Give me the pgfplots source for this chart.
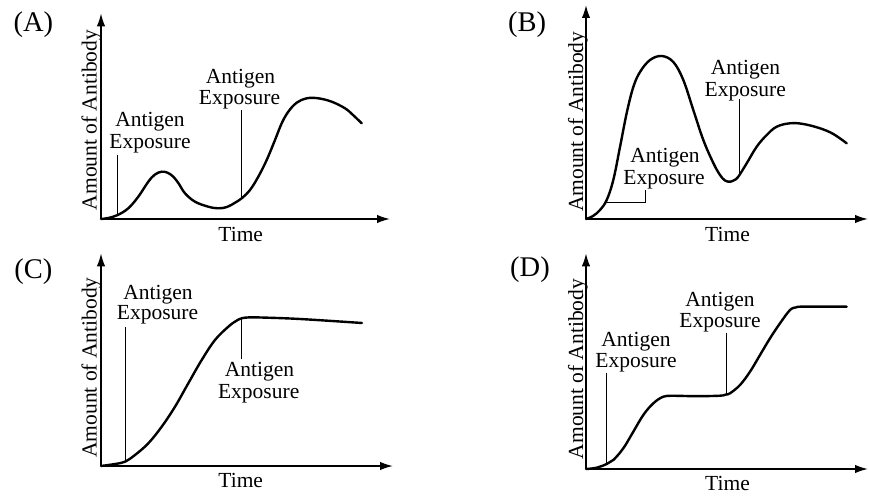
\documentclass[border=0pt]{standalone}
\usepackage{pgfplots}
\pgfplotsset{compat=1.18}
\usetikzlibrary{arrows.meta}
\usepackage{fontspec}
\setmainfont{Liberation Serif}
\newcommand{\lab}{\fontsize{21.5}{21.5}\selectfont}
\newcommand{\pnl}{\fontsize{28.5}{28.5}\selectfont}
\pgfplotsset{
  panel/.style={
    scale only axis, axis lines=left, ticks=none, clip=false,
    xmin=0, ymin=0,
    axis line style={line width=1.7pt, -{Latex[length=13pt,width=8.5pt]}},
  },
  curve/.style={black, line width=2.4pt, smooth, tension=0.6, no markers, line cap=round, line join=round},
}
\tikzset{expo/.style={black, line width=0.8pt}}
\begin{document}
\begin{tikzpicture}[x=1pt,y=1pt]
\path[use as bounding box, fill=white] (0,0) rectangle (869,495);
% ---------- (A)
\begin{axis}[panel, at={(101pt,276pt)}, anchor=south west,
  width=289pt, height=205.7pt, xmax=289, ymax=205.7]
\addplot[curve] coordinates {(0,0) (7.3,1) (16.7,4) (27.3,10.7) (37.3,22.3) (47.3,37.3) (54,44.5) (60.7,47.3) (66.5,46.3) (72.3,42.3) (78,35) (84,25.7) (94,17.3) (107.3,12.3) (117.3,10.7) (126,12) (134,16.3) (140.7,20.7) (149,29) (157.3,42.3) (165.7,59) (174,79) (180.7,95.7) (187.3,107.3) (195.7,116.3) (205.7,120.7) (217.3,120.7) (230.7,117.3) (244,110.7) (252,104) (260.7,95.7)};
\draw[expo] (axis cs:16.7,4) -- (axis cs:16.7,64);
\draw[expo] (axis cs:140,20.2) -- (axis cs:140,109);
\end{axis}
% ---------- (B)
\begin{axis}[panel, at={(586pt,276pt)}, anchor=south west,
  width=282pt, height=214pt, xmax=282, ymax=214]
\addplot[curve] coordinates {(0,0) (7,3) (14,9) (20.7,19) (27.3,39) (34,72) (40.7,106) (47.3,132) (54,147) (64,159) (75.7,163) (87.3,157) (97.3,139) (107.3,109) (117.3,79) (127.3,56) (134,44) (139,38.5) (144,37.3) (148.5,39) (152.3,42.3) (160.7,55.7) (170.7,72.3) (180.7,84) (190.7,92.3) (204,95.7) (217.3,95) (234,90.7) (247.3,85) (260.7,75.7)};
\draw[expo] (axis cs:19.5,17) -- (axis cs:59,17) -- (axis cs:59,29);
\draw[expo] (axis cs:153,44) -- (axis cs:153,120);
\end{axis}
% ---------- (C)
\begin{axis}[panel, at={(101pt,29pt)}, anchor=south west,
  width=292pt, height=212.7pt, xmax=292, ymax=212.7]
\addplot[curve] coordinates {(0,0) (14,2) (24,4.3) (34,11) (47.3,22.7) (60.7,39.3) (74,59.3) (87.3,82.7) (100.7,106) (114,126) (127.3,139.3) (135,145) (140.7,147.7) (148,148.6) (160,148.5) (199,147) (261,143)};
\draw[expo] (axis cs:24,4.3) -- (axis cs:24,139.3);
\draw[expo] (axis cs:140.7,147.7) -- (axis cs:140.7,107);
\end{axis}
% ---------- (D)
\begin{axis}[panel, at={(586pt,26pt)}, anchor=south west,
  width=282pt, height=215.7pt, xmax=282, ymax=215.7]
\addplot[curve] coordinates {(0,0) (10.7,1.3) (20.7,5) (27.3,9) (37.3,20.7) (47.3,37.3) (57.3,54) (67.3,65.7) (77.3,72.3) (87.3,73.2) (110.7,72.8) (134,73.3) (140,74.5) (144,75.7) (154,84) (164,97.3) (174,114) (184,130.7) (194,145.7) (204,159) (210,161.6) (214,162.3) (230,162.3) (260.7,162.3)};
\draw[expo] (axis cs:20,5) -- (axis cs:20,95.7);
\draw[expo] (axis cs:140.7,74) -- (axis cs:140.7,135.7);
\end{axis}
% ---------- texts
\begin{scope}[every node/.style={inner sep=0pt, anchor=base}]
\node[font=\pnl] at (33.3,463.3) {(A)};
\node[font=\pnl] at (527,463.3) {(B)};
\node[font=\pnl] at (33.3,216.7) {(C)};
\node[font=\pnl] at (530,218.3) {(D)};
\node[font=\lab, rotate=90] at (96.7,375) {Amount of Antibody};
\node[font=\lab, rotate=90] at (583,373.3) {Amount of Antibody};
\node[font=\lab, rotate=90] at (96.7,127.5) {Amount of Antibody};
\node[font=\lab, rotate=90] at (583,126) {Amount of Antibody};
\node[font=\lab] at (240.7,253.3) {Time};
\node[font=\lab] at (727.5,253.3) {Time};
\node[font=\lab] at (240.7,7.3) {Time};
\node[font=\lab] at (727.5,5) {Time};
% A
\node[font=\lab] at (150,368.3) {Antigen};
\node[font=\lab] at (150,346.7) {Exposure};
\node[font=\lab] at (240.5,411.7) {Antigen};
\node[font=\lab] at (239.5,390) {Exposure};
% B
\node[font=\lab] at (665,332) {Antigen};
\node[font=\lab] at (664,310) {Exposure};
\node[font=\lab] at (745.5,420) {Antigen};
\node[font=\lab] at (745.3,398.3) {Exposure};
% C
\node[font=\lab] at (158,195) {Antigen};
\node[font=\lab] at (157.5,175) {Exposure};
\node[font=\lab] at (259.5,118.3) {Antigen};
\node[font=\lab] at (258.7,96.7) {Exposure};
% D
\node[font=\lab] at (636,148.3) {Antigen};
\node[font=\lab] at (636,127) {Exposure};
\node[font=\lab] at (720,188.3) {Antigen};
\node[font=\lab] at (720,167) {Exposure};
\end{scope}
\end{tikzpicture}
\end{document}
